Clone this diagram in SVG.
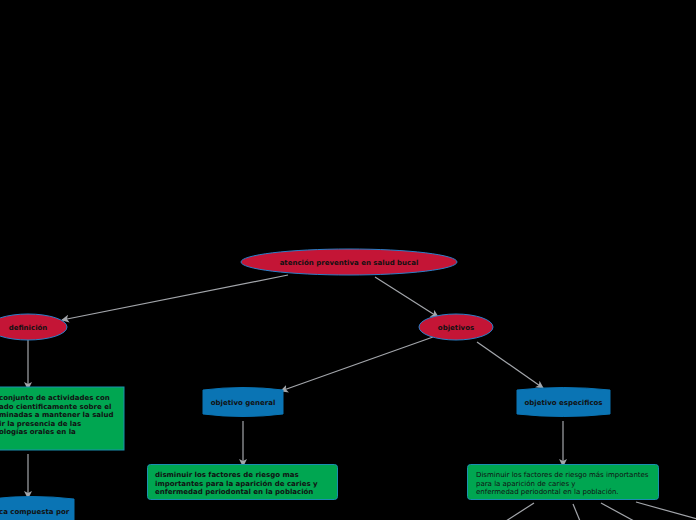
<svg xmlns="http://www.w3.org/2000/svg" width="696" height="520" viewBox="0 0 696 520">
<style>
.bg{fill:#000}
.red{fill:#c41536;stroke:#2a7fc8;stroke-width:1}
.blue{fill:#0a74b4;stroke:#0a74b4;stroke-width:1}
.green{fill:#00a651;stroke:#1b8fb0;stroke-width:1}
.t{font-family:"DejaVu Sans",sans-serif;font-size:7px;font-weight:bold;fill:#111}
.tn{font-family:"DejaVu Sans",sans-serif;font-size:7px;fill:#111}
.c{text-anchor:middle}
.ln{stroke:#a3a6ab;stroke-width:1.2;fill:none}
</style>
<defs>
<marker id="ar" markerWidth="8" markerHeight="8" refX="7" refY="4" orient="auto" markerUnits="userSpaceOnUse">
<path d="M0,0 L8,4 L0,8 L2,4 Z" fill="#a3a6ab"/>
</marker>
</defs>
<rect class="bg" x="0" y="0" width="696" height="520"/>
<g id="connectors">
<line class="ln" x1="288" y1="275" x2="62" y2="320" marker-end="url(#ar)"/>
<line class="ln" x1="375" y1="277" x2="438" y2="317" marker-end="url(#ar)"/>
<line class="ln" x1="28" y1="340" x2="28" y2="389" marker-end="url(#ar)"/>
<line class="ln" x1="433" y1="337" x2="281" y2="391" marker-end="url(#ar)"/>
<line class="ln" x1="477" y1="342" x2="543" y2="388" marker-end="url(#ar)"/>
<line class="ln" x1="243" y1="421" x2="243" y2="466" marker-end="url(#ar)"/>
<line class="ln" x1="563" y1="421" x2="563" y2="466" marker-end="url(#ar)"/>
<line class="ln" x1="28" y1="454" x2="28" y2="498" marker-end="url(#ar)"/>
<line class="ln" x1="534" y1="503" x2="506" y2="521"/>
<line class="ln" x1="573" y1="504" x2="580" y2="521"/>
<line class="ln" x1="601" y1="503" x2="634" y2="521"/>
<line class="ln" x1="636" y1="502" x2="697" y2="519"/>
</g>
<g id="n-atencion">
<ellipse class="red" cx="349" cy="262" rx="108" ry="13"/>
<text class="t c" x="349" y="264.5">atención preventiva en salud bucal</text>
</g>
<g id="n-definicion">
<ellipse class="red" cx="28" cy="327" rx="39" ry="13"/>
<text class="t c" x="28" y="329.5">definición</text>
</g>
<g id="n-objetivos">
<ellipse class="red" cx="456" cy="327" rx="37" ry="13"/>
<text class="t c" x="456" y="329.5">objetivos</text>
</g>
<g id="n-def-texto">
<rect class="green" x="-10" y="387" width="134" height="63"/>
<text class="t" x="-1" y="399.5">conjunto de actividades con</text>
<text class="t" x="-1" y="408.5">ado cientificamente sobre el</text>
<text class="t" x="-1" y="417">minadas a mantener la salud</text>
<text class="t" x="-1" y="425.5">ir la presencia de las</text>
<text class="t" x="-1" y="434">ologías orales en la</text>
</g>
<g id="n-compuesta">
<path class="blue" d="M-10,499 Q32,494 74,499 L74,525 L-10,525 Z"/>
<text class="t" x="-1" y="513.5">ca compuesta por</text>
</g>
<g id="n-obj-general">
<path class="blue" d="M203,390 Q243,385 283,390 L283,414 Q243,419 203,414 Z"/>
<text class="t c" x="243" y="404.5">objetivo general</text>
</g>
<g id="n-obj-especificos">
<path class="blue" d="M517,390 Q563,385 610,390 L610,414 Q563,419 517,414 Z"/>
<text class="t c" x="563.5" y="404.5">objetivo especificos</text>
</g>
<g id="n-general-texto">
<rect class="green" x="147.5" y="464.5" width="190" height="35" rx="3"/>
<text class="t" x="155" y="477">disminuir los factores de riesgo mas</text>
<text class="t" x="155" y="485.5">importantes para la aparición de caries y</text>
<text class="t" x="155" y="494">enfermedad periodontal en la población</text>
</g>
<g id="n-especificos-texto">
<rect class="green" x="467.5" y="464.5" width="191" height="35" rx="3"/>
<text class="tn" x="476" y="477">Disminuir los factores de riesgo más importantes</text>
<text class="tn" x="476" y="485.5">para la aparición de caries y</text>
<text class="tn" x="476" y="494">enfermedad periodontal en la población.</text>
</g>
</svg>
